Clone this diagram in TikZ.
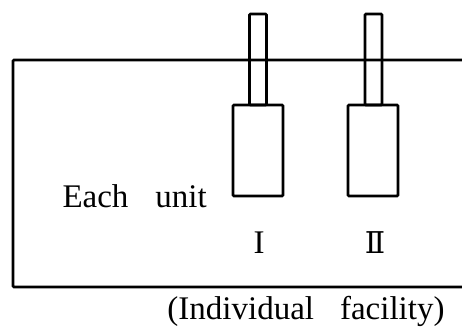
\documentclass[tikz,border=0pt]{standalone}
\usepackage{fontspec}
\setmainfont{Liberation Serif}
\newfontfamily\romfont{DejaVu Serif}
\usetikzlibrary{positioning}
\tikzset{
  wall/.style={line width=2.7pt},
  unitbox/.style={draw,line width=2.7pt,minimum width=50pt,minimum height=91pt,inner sep=0pt,rounded corners=1pt},
  stembox/.style={draw,line width=2.7pt,minimum width=17pt,minimum height=91pt,inner sep=0pt,rounded corners=1pt},
  lbl/.style={font=\fontsize{33}{38}\selectfont,inner sep=0pt}
}
\begin{document}
\begin{tikzpicture}[x=1pt,y=-1pt]
  \useasboundingbox (0,0) rectangle (462,327);
  % facility outline, open to the right
  \coordinate (tr) at (462,60);
  \coordinate (br) at (462,287);
  \draw[wall,rounded corners=1pt] (tr) -- (13,60) -- (13,287) -- (br);
  % units
  \node[unitbox] (unitI) at (258,150.5) {};
  \node[unitbox] (unitII) at (373,150.5) {};
  \node[stembox] (stemI) at (258,59.5) {};
  \node[stembox] (stemII) at (373.5,59.5) {};
  % labels
  \node[lbl,anchor=base east] (each) at (207,207) {Each\hspace{27pt}unit};
  \node[lbl,anchor=base] (numI) at (259,253) {I};
  \node[lbl,anchor=base] (numII) at (375,253) {\romfont\fontsize{30}{36}\selectfont Ⅱ};
  \node[lbl,anchor=base] (indiv) at (306,319) {(Individual\hspace{26pt}facility)};
\end{tikzpicture}
\end{document}
